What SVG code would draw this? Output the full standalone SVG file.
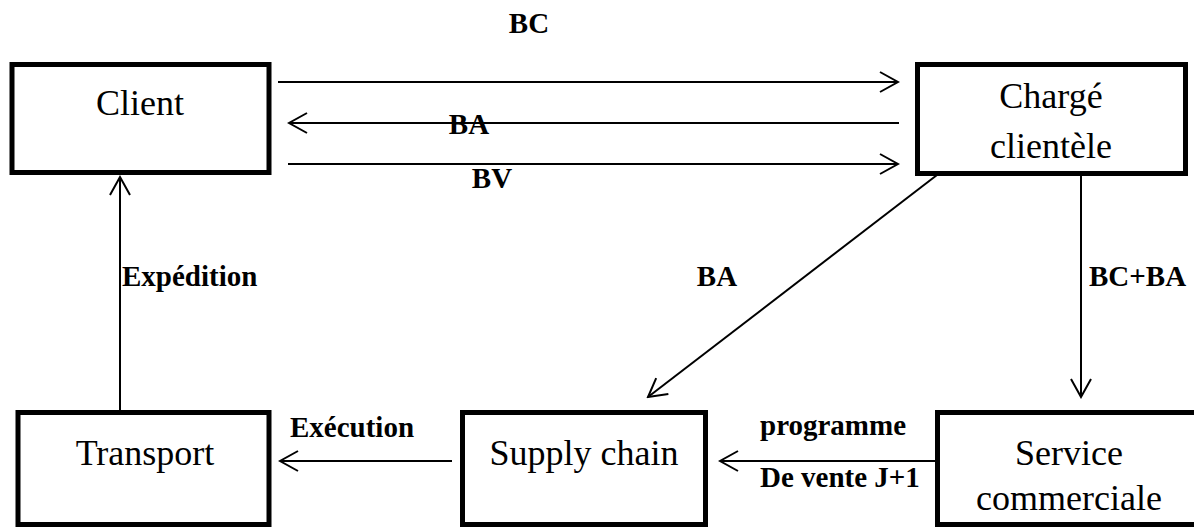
<svg xmlns="http://www.w3.org/2000/svg" width="1194" height="527" viewBox="0 0 1194 527">
  <style>
    .box { fill: #fff; stroke: #000; stroke-width: 5; }
    .name { font-family: "Liberation Serif", "Times New Roman", serif; font-size: 36px; fill: #000; text-anchor: middle; }
    .edge { fill: none; stroke: #000; stroke-width: 2; }
    .lbl { font-family: "Liberation Serif", "Times New Roman", serif; font-size: 29px; font-weight: bold; fill: #000; }
  </style>
  <defs>
    <marker id="open" markerUnits="userSpaceOnUse" markerWidth="22" markerHeight="24" viewBox="-2 -2 22 24" refX="18" refY="10" orient="auto">
      <path d="M0,0 L18,10 L0,20" fill="none" stroke="#000" stroke-width="2"/>
    </marker>
  </defs>
  <rect width="1194" height="527" fill="#fff"/>

  <!-- connectors -->
  <g id="connectors">
    <line class="edge" x1="278" y1="82" x2="898" y2="82" marker-end="url(#open)"/>
    <line class="edge" x1="899" y1="123" x2="289" y2="123" marker-end="url(#open)"/>
    <line class="edge" x1="288" y1="164" x2="898" y2="164" marker-end="url(#open)"/>
    <line class="edge" x1="937" y1="175" x2="648" y2="397" marker-end="url(#open)"/>
    <line class="edge" x1="1081" y1="176" x2="1081" y2="397" marker-end="url(#open)"/>
    <line class="edge" x1="120" y1="410" x2="120" y2="177" marker-end="url(#open)"/>
    <line class="edge" x1="452" y1="461" x2="280" y2="461" marker-end="url(#open)"/>
    <line class="edge" x1="936" y1="461" x2="720" y2="461" marker-end="url(#open)"/>

    <text class="lbl" x="529" y="33" text-anchor="middle">BC</text>
    <text class="lbl" x="469" y="134" text-anchor="middle">BA</text>
    <text class="lbl" x="492" y="188" text-anchor="middle">BV</text>
    <text class="lbl" x="717" y="286" text-anchor="middle">BA</text>
    <text class="lbl" x="1089" y="286">BC+BA</text>
    <text class="lbl" x="122" y="286">Expédition</text>
    <text class="lbl" x="290" y="437">Exécution</text>
    <text class="lbl" x="760" y="435">programme</text>
    <text class="lbl" x="760" y="487">De vente J+1</text>
  </g>

  <g id="client">
    <rect class="box" x="12" y="64.5" width="257" height="108"/>
    <text class="name" x="140" y="115">Client</text>
  </g>

  <g id="charge-clientele">
    <rect class="box" x="917.5" y="64.5" width="268" height="109"/>
    <text class="name" x="1051" y="108">Chargé</text>
    <text class="name" x="1051" y="158">clientèle</text>
  </g>

  <g id="transport">
    <rect class="box" x="18" y="412.5" width="251" height="112"/>
    <text class="name" x="145" y="465">Transport</text>
  </g>

  <g id="supply-chain">
    <rect class="box" x="462.5" y="412.5" width="243" height="112"/>
    <text class="name" x="584" y="465">Supply chain</text>
  </g>

  <g id="service-commercial">
    <rect class="box" x="937.5" y="412.5" width="270" height="112"/>
    <text class="name" x="1069" y="465">Service</text>
    <text class="name" x="1069" y="510">commerciale</text>
  </g>
</svg>
